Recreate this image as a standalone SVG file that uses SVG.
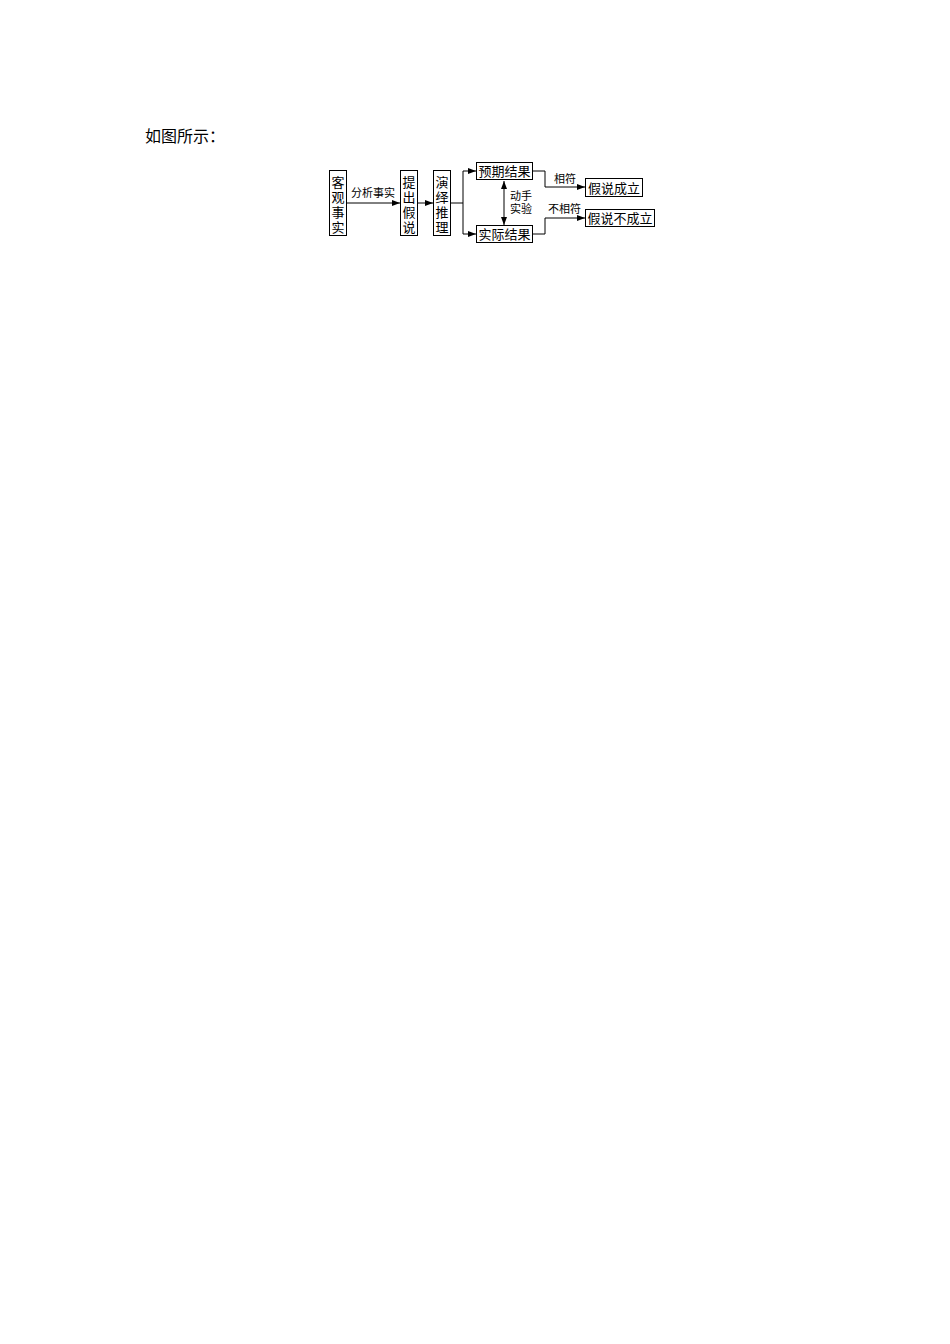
<svg xmlns="http://www.w3.org/2000/svg" width="950" height="1344" viewBox="0 0 950 1344">
<style>
.b{fill:#fff;stroke:#000;stroke-width:1}
.t{font-family:"Liberation Serif","Noto Sans CJK SC",serif;font-size:13px;fill:#000}
.s{font-family:"Liberation Serif","Noto Sans CJK SC",serif;font-size:11px;fill:#000}
.l{fill:none;stroke:#000;stroke-width:1}
</style>
<defs>
<marker id="a" markerWidth="8" markerHeight="6" refX="8" refY="3" orient="auto" markerUnits="userSpaceOnUse"><path d="M0,0L8,3L0,6z" fill="#000"/></marker>
<marker id="as" markerWidth="8" markerHeight="6" refX="0" refY="3" orient="auto" markerUnits="userSpaceOnUse"><path d="M8,0L0,3L8,6z" fill="#000"/></marker>
</defs>
<text x="145" y="142" style="font-family:'Liberation Serif','Noto Sans CJK SC',serif;font-size:16px">如图所示：</text>
<g id="connectors">
<line class="l" x1="347" y1="203" x2="400" y2="203" marker-end="url(#a)"/>
<line class="l" x1="418" y1="203" x2="433" y2="203" marker-end="url(#a)"/>
<polyline class="l" points="451,203 463,203"/>
<line class="l" x1="463" y1="171" x2="463" y2="234"/>
<line class="l" x1="463" y1="171" x2="476" y2="171" marker-end="url(#a)"/>
<line class="l" x1="463" y1="234" x2="476" y2="234" marker-end="url(#a)"/>
<line class="l" x1="504" y1="181" x2="504" y2="225" marker-start="url(#as)" marker-end="url(#a)"/>
<polyline class="l" points="533,171 545,171 545,187 585,187" marker-end="url(#a)"/>
<polyline class="l" points="533,234 545,234 545,218 585,218" marker-end="url(#a)"/>
<text class="s" x="351" y="197">分析事实</text>
<text class="s" x="510" y="200">动手</text>
<text class="s" x="510" y="213">实验</text>
<text class="s" x="554" y="183">相符</text>
<text class="s" x="548" y="213">不相符</text>
</g>
<g id="n1"><rect class="b" x="329.5" y="170.5" width="17" height="65"/>
<text class="t" x="338" y="187" text-anchor="middle">客</text><text class="t" x="338" y="202" text-anchor="middle">观</text><text class="t" x="338" y="217" text-anchor="middle">事</text><text class="t" x="338" y="232" text-anchor="middle">实</text></g>
<g id="n2"><rect class="b" x="400.5" y="170.5" width="17" height="65"/>
<text class="t" x="409" y="187" text-anchor="middle">提</text><text class="t" x="409" y="202" text-anchor="middle">出</text><text class="t" x="409" y="217" text-anchor="middle">假</text><text class="t" x="409" y="232" text-anchor="middle">说</text></g>
<g id="n3"><rect class="b" x="433.5" y="170.5" width="17" height="65"/>
<text class="t" x="442" y="187" text-anchor="middle">演</text><text class="t" x="442" y="202" text-anchor="middle">绎</text><text class="t" x="442" y="217" text-anchor="middle">推</text><text class="t" x="442" y="232" text-anchor="middle">理</text></g>
<g id="n4"><rect class="b" x="476.5" y="162.5" width="56" height="17"/>
<text class="t" x="504.5" y="176" text-anchor="middle">预期结果</text></g>
<g id="n5"><rect class="b" x="476.5" y="225.5" width="56" height="17"/>
<text class="t" x="504.5" y="239" text-anchor="middle">实际结果</text></g>
<g id="n6"><rect class="b" x="585.5" y="178.5" width="57" height="18"/>
<text class="t" x="614" y="192.5" text-anchor="middle">假说成立</text></g>
<g id="n7"><rect class="b" x="585.5" y="209.5" width="69" height="17"/>
<text class="t" x="620" y="223" text-anchor="middle">假说不成立</text></g>
</svg>
